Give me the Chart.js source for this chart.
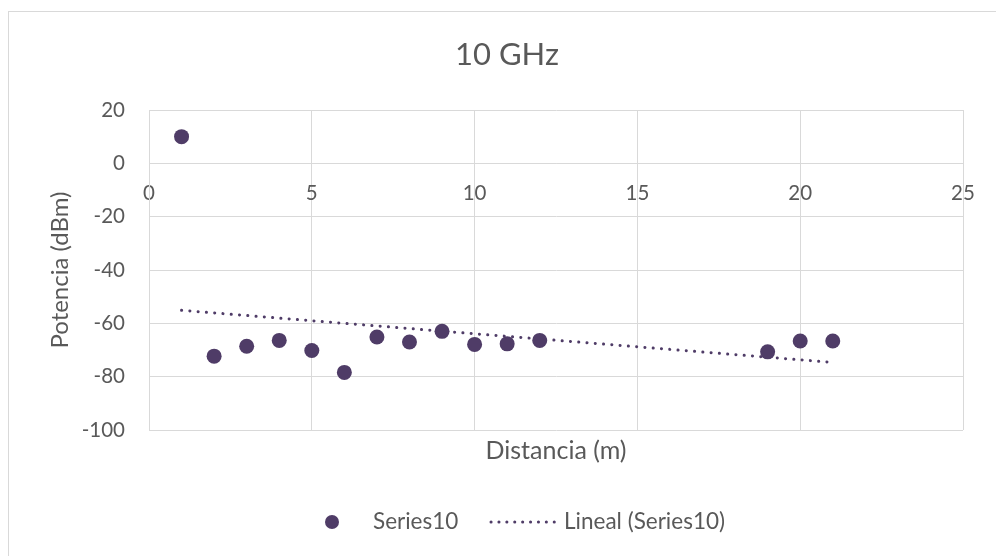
<!DOCTYPE html>
<html>
<head>
<meta charset="utf-8">
<script src="https://cdn.jsdelivr.net/npm/chart.js@4/dist/chart.umd.min.js"></script>
<style>
  html, body { margin: 0; padding: 0; background: #fff; }
  #wrap { position: relative; width: 996px; height: 556px; overflow: hidden; }
  #frame { position: absolute; left: 8px; top: 11px; width: 1000px; height: 560px;
           border-left: 1px solid #d9d9d9; border-top: 1px solid #d9d9d9; }
  #c { position: absolute; left: 0; top: 0; }
</style>
</head>
<body>
<div id="wrap">
  <div id="frame"></div>
  <canvas id="c" width="996" height="556"></canvas>
</div>
<script>
// distance (m) and received power (dBm) at 10 GHz
const distancia = [1, 2, 3, 4, 5, 6, 7, 8, 9, 10, 11, 12, 19, 20, 21]
const potencia = [10, -72.3, -68.6, -66.4, -70.2, -78.4, -65.1, -67.0, -63.0, -67.9, -67.7, -66.4, -70.7, -66.6, -66.6]

const xTicks = [0, 5, 10, 15, 20, 25]
const yTicks = [-100, -80, -60, -40, -20, 0, 20]

const purple = '#4f3c67',
      textGray = '#595959',
      gridGray = '#d9d9d9'

/*========================== Linear trend (least squares) =============================*/
function linearFit(xs, ys) {
    const n = xs.length
    const mx = xs.reduce((a, b) => a + b, 0) / n
    const my = ys.reduce((a, b) => a + b, 0) / n
    let sxy = 0, sxx = 0
    for (let i = 0; i < n; i++) {
        sxy += (xs[i] - mx) * (ys[i] - my)
        sxx += (xs[i] - mx) * (xs[i] - mx)
    }
    const m = sxy / sxx
    return x => my + m * (x - mx)
}
const fit = linearFit(distancia, potencia)
const xFirst = Math.min(...distancia), xLast = Math.max(...distancia)
const trend = [{x: xFirst, y: fit(xFirst)}, {x: xLast, y: fit(xLast)}]

/*========================== Legend drawn under the plot =============================*/
const bottomLegend = {
    id: 'bottomLegend',
    afterDraw(chart) {
        const ctx = chart.ctx
        const y = 522
        ctx.save()
        ctx.fillStyle = purple
        ctx.beginPath()
        ctx.arc(332, y, 7, 0, Math.PI * 2)
        ctx.fill()

        ctx.strokeStyle = purple
        ctx.lineWidth = 3
        ctx.lineCap = 'round'
        ctx.setLineDash([0.1, 7.8])
        ctx.beginPath()
        ctx.moveTo(491, y)
        ctx.lineTo(560, y)
        ctx.stroke()
        ctx.setLineDash([])

        ctx.fillStyle = textGray
        ctx.font = '22.5px Lato'
        ctx.textBaseline = 'middle'
        ctx.fillText(chart.data.datasets[0].label, 373, y)
        ctx.fillText(chart.data.datasets[1].label, 564, y)
        ctx.restore()
    }
}

/*========================== Chart =============================*/
const data = {
    datasets: [
        {
            type: 'scatter',
            label: 'Series10',
            data: distancia.map((d, i) => ({x: d, y: potencia[i]})),
            pointRadius: 7.5,
            pointHoverRadius: 7.5,
            pointBackgroundColor: purple,
            pointBorderWidth: 0
        },
        {
            type: 'line',
            label: 'Lineal (Series10)',
            data: trend,
            borderColor: purple,
            borderWidth: 3,
            borderCapStyle: 'round',
            borderDash: [0.1, 8.2],
            pointRadius: 0,
            fill: false
        }
    ]
}

const config = {
    type: 'scatter',
    data: data,
    plugins: [bottomLegend],
    options: {
        responsive: false,
        animation: false,
        layout: { padding: { left: 51, right: 33, top: 0, bottom: 86 } },
        plugins: {
            legend: { display: false },
            tooltip: { enabled: false },
            title: {
                display: true,
                text: '10 GHz',
                color: textGray,
                font: { family: 'Lato', size: 31, weight: 'normal', lineHeight: 1.2 },
                padding: { top: 36, bottom: 36.8 }
            }
        },
        scales: {
            x: {
                type: 'linear',
                position: { y: 0 },
                min: xTicks[0],
                max: xTicks[xTicks.length - 1],
                afterBuildTicks: s => { s.ticks = xTicks.map(v => ({value: v})) },
                grid: { color: gridGray, drawTicks: false },
                border: { color: gridGray },
                ticks: { color: textGray, padding: 18, font: { family: 'Lato', size: 20.5 } }
            },
            xTitle: {
                type: 'linear',
                axis: 'x',
                position: 'bottom',
                min: xTicks[0],
                max: xTicks[xTicks.length - 1],
                grid: { display: false },
                border: { display: false },
                ticks: { display: false },
                title: {
                    display: true,
                    text: 'Distancia (m)',
                    color: textGray,
                    font: { family: 'Lato', size: 25 },
                    padding: { top: 0, bottom: 4 }
                },
                afterFit: s => { s.height = 40 }
            },
            y: {
                type: 'linear',
                position: 'left',
                min: yTicks[0],
                max: yTicks[yTicks.length - 1],
                afterBuildTicks: s => { s.ticks = yTicks.map(v => ({value: v})) },
                grid: { color: gridGray, drawTicks: false },
                border: { color: gridGray },
                ticks: { color: textGray, padding: 24, font: { family: 'Lato', size: 20.5 } },
                title: {
                    display: true,
                    text: 'Potencia (dBm)',
                    color: textGray,
                    font: { family: 'Lato', size: 24, lineHeight: 0.8 },
                    padding: { top: 0, bottom: 0 }
                },
                afterFit: s => { s.width = 98 }
            }
        }
    }
}

const chart = new Chart(document.getElementById('c'), config)
</script>
</body>
</html>
